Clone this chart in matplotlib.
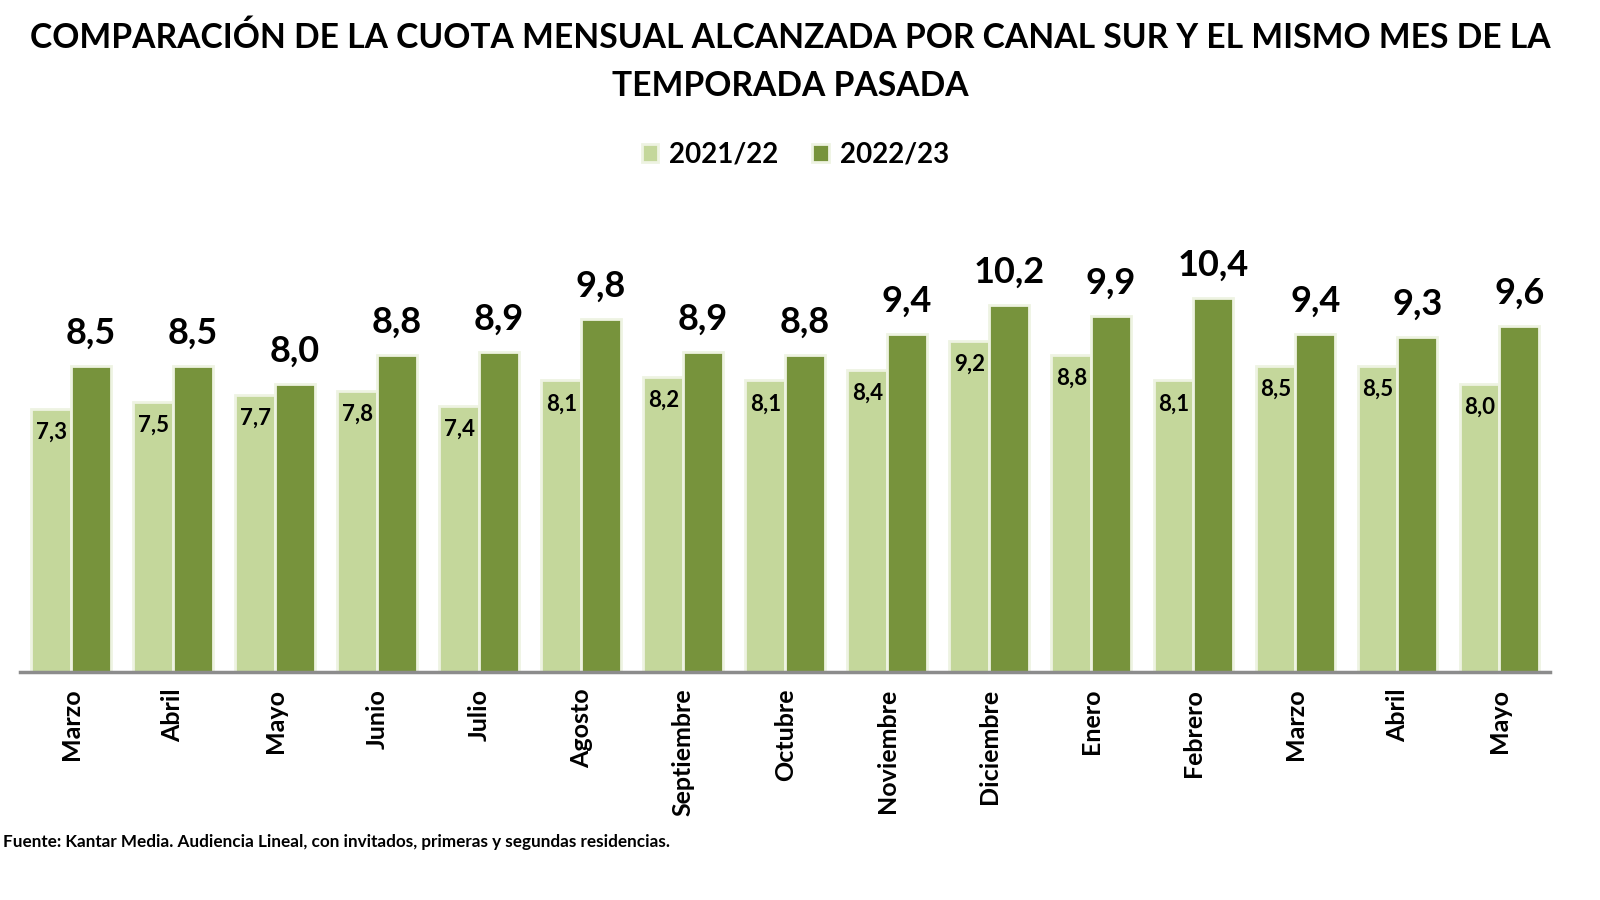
import matplotlib.pyplot as plt
import numpy as np

months = ["Marzo", "Abril", "Mayo", "Junio", "Julio", "Agosto", "Septiembre",
          "Octubre", "Noviembre", "Diciembre", "Enero", "Febrero", "Marzo",
          "Abril", "Mayo"]
prev_season = [7.3, 7.5, 7.7, 7.8, 7.4, 8.1, 8.2, 8.1, 8.4, 9.2, 8.8, 8.1, 8.5, 8.5, 8.0]
this_season = [8.5, 8.5, 8.0, 8.8, 8.9, 9.8, 8.9, 8.8, 9.4, 10.2, 9.9, 10.4, 9.4, 9.3, 9.6]
series_names = ["2021/22", "2022/23"]

light = "#c4d79b"
dark = "#77933c"
font = "Lato"


def fmt(v):
    return f"{v:.1f}".replace(".", ",")


def main():
    fig = plt.figure(figsize=(16, 9), dpi=100)
    ax = fig.add_axes([0.0125, 0.2533, 0.9565, 0.50])

    x = np.arange(len(months))
    w = 0.39
    b1 = ax.bar(x - w / 2, prev_season, w, color=light, edgecolor="#eef3e2",
                linewidth=2, label=series_names[0])
    b2 = ax.bar(x + w / 2, this_season, w, color=dark, edgecolor="#eef3e2",
                linewidth=2, label=series_names[1])

    for xi, v in zip(x, prev_season):
        ax.text(xi - w / 2, v - 0.36, fmt(v), ha="center", va="top",
                fontsize=16, fontweight="bold", family=font)
    for xi, v in zip(x, this_season):
        ax.text(xi + w / 2, v + 0.45, fmt(v), ha="center", va="bottom",
                fontsize=26, fontweight="bold", family=font)

    ax.set_xlim(-0.5, len(months) - 0.5)
    ax.set_ylim(0, 12.5)
    ax.set_yticks([])
    for s in ["left", "right", "top"]:
        ax.spines[s].set_visible(False)
    ax.spines["bottom"].set_color("#8c8c8c")
    ax.spines["bottom"].set_linewidth(2.5)
    ax.set_xticks(x)
    ax.set_xticklabels(months, rotation=90, fontsize=18, fontweight="bold",
                       family=font)
    ax.tick_params(axis="x", length=0, pad=12)

    fig.text(0.494, 0.958, "COMPARACIÓN DE LA CUOTA MENSUAL ALCANZADA POR CANAL SUR Y EL MISMO MES DE LA",
             ha="center", va="center", fontsize=24.2, fontweight="bold", family=font)
    fig.text(0.494, 0.904, "TEMPORADA PASADA",
             ha="center", va="center", fontsize=24.2, fontweight="bold", family=font)

    fig.legend(handles=[b1, b2], labels=series_names, loc="center",
               bbox_to_anchor=(0.497, 0.828), ncol=2, frameon=False,
               prop={"family": font, "weight": "bold", "size": 20},
               handlelength=0.6, handleheight=0.6, handletextpad=0.4,
               columnspacing=1.2)

    fig.text(0.002, 0.065, "Fuente: Kantar Media. Audiencia Lineal, con invitados, primeras y segundas residencias.",
             ha="left", va="center", fontsize=12.3, fontweight="bold", family=font)

    fig.savefig("out.png", dpi=100)
    plt.close(fig)


if __name__ == "__main__":
    main()
